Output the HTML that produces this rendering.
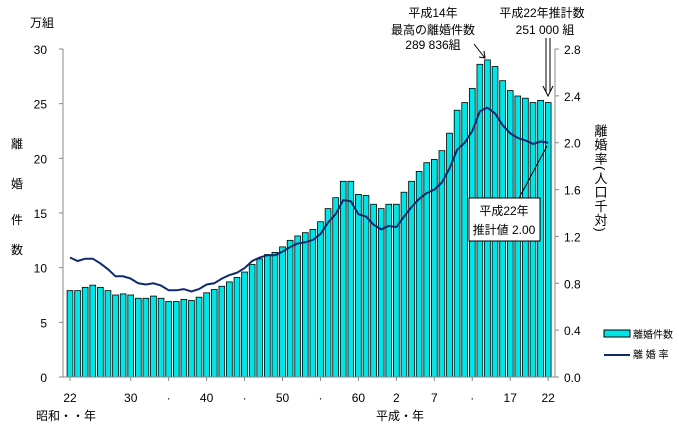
<!DOCTYPE html>
<html><head><meta charset="utf-8"><style>
body{margin:0;background:#fff;}
svg text{font-family:"Liberation Sans","Noto Sans CJK JP",sans-serif;font-size:12px;fill:#000;}
</style></head><body>
<svg width="679" height="432" id="c">
<g id="bars"></g>
<path id="rate" fill="none" stroke="#0f2a6e" stroke-width="2"/>
<line x1="63" y1="49" x2="63" y2="377" stroke="#888"/>
<line x1="555" y1="49" x2="555" y2="377" stroke="#888"/>
<line x1="63" y1="377" x2="555" y2="377" stroke="#888"/>
<g id="ticks"></g>
<text x="30" y="27">万組</text>
<g font-size="13">
<text x="11" y="148">離</text><text x="11" y="188">婚</text><text x="11" y="224">件</text><text x="11" y="254">数</text></g>
<text x="600" y="124" style="writing-mode:vertical-rl;font-size:13px;letter-spacing:1px">離婚率(人口千対)</text>
<text x="36" y="420">昭和・・年</text>
<text x="376" y="420">平成・年</text>
<g text-anchor="middle">
<text x="433" y="17">平成14年</text><text x="433" y="34">最高の離婚件数</text><text x="433" y="49">289 836組</text></g>
<path d="M474 44 L485 58 M479 57 L485 58 L484 51" stroke="#000" fill="none"/>
<g text-anchor="middle">
<text x="542" y="17">平成22年推計数</text><text x="545" y="34">251 000 組</text></g>
<path d="M546 38 L546 92 M550 38 L550 92 M543 86 L548 96 L553 86" stroke="#000" fill="none"/>
<line x1="518" y1="200" x2="547" y2="146" stroke="#000"/>
<rect x="469" y="198" width="71" height="43" fill="#fff" stroke="#000"/>
<text x="504" y="215" text-anchor="middle">平成22年</text>
<text x="504" y="234" text-anchor="middle">推計値 2.00</text>
<rect x="604" y="330" width="26" height="7" fill="#00e5e5" stroke="#000"/>
<text x="633" y="338" font-size="10" style="font-size:10px">離婚件数</text>
<line x1="604" y1="355" x2="630" y2="355" stroke="#0f2a6e" stroke-width="2"/>
<text x="633" y="358" style="font-size:10px">離 婚 率</text>
</svg>
<script>
const years=[22,23,24,25,26,27,28,29,30,31,32,33,34,35,36,37,38,39,40,41,42,43,44,45,46,47,48,49,50,51,52,53,54,55,56,57,58,59,60,61,62,63,64,2,3,4,5,6,7,8,9,10,11,12,13,14,15,16,17,18,19,20,21,22];
const divorces=[7.9,7.9,8.2,8.4,8.2,7.9,7.5,7.6,7.5,7.2,7.2,7.4,7.2,6.9,6.9,7.1,7.0,7.3,7.7,8.0,8.3,8.7,9.1,9.6,10.3,10.8,11.2,11.4,11.9,12.5,12.9,13.2,13.5,14.2,15.4,16.4,17.9,17.9,16.7,16.6,15.8,15.4,15.8,15.8,16.9,17.9,18.8,19.6,19.9,20.7,22.3,24.4,25.1,26.4,28.6,29.0,28.4,27.1,26.2,25.7,25.5,25.1,25.3,25.1];
const rates=[1.02,0.99,1.01,1.01,0.97,0.92,0.86,0.86,0.84,0.80,0.79,0.80,0.78,0.74,0.74,0.75,0.73,0.75,0.79,0.80,0.84,0.87,0.89,0.93,0.99,1.02,1.04,1.04,1.07,1.11,1.14,1.15,1.17,1.22,1.32,1.39,1.51,1.50,1.39,1.37,1.30,1.26,1.29,1.28,1.37,1.45,1.52,1.57,1.60,1.66,1.78,1.94,2.00,2.10,2.27,2.30,2.25,2.15,2.08,2.04,2.02,1.99,2.01,2.00];
const leftTicks=[0,5,10,15,20,25,30];
const rightTicks=[0.0,0.4,0.8,1.2,1.6,2.0,2.4,2.8];
const xLabels=["22","30","·","40","·","50","·","60","2","7","·","17","22"];
const xLabelIdx=[0,8,13,18,23,28,33,38,43,48,53,58,63];
const NS="http://www.w3.org/2000/svg";
const y0=377,y1=49,x0=66.2,slot=7.59;
const yL=v=>y0-(v/30)*(y0-y1);
const yR=v=>y0-(v/2.8)*(y0-y1);
const xc=i=>x0+slot*(i+0.5);
function mk(t,a,p){const e=document.createElementNS(NS,t);for(const k in a)e.setAttribute(k,a[k]);p.appendChild(e);return e;}
const bg=document.getElementById('bars');
divorces.forEach((v,i)=>{const r=mk('rect',{x:xc(i)-2.9,y:yL(v),width:5.8,height:y0-yL(v),fill:'#00e5e5',stroke:'#000','stroke-width':0.8},bg);

});
document.getElementById('rate').setAttribute('d',rates.map((v,i)=>(i?'L':'M')+xc(i).toFixed(1)+' '+yR(v).toFixed(1)).join(' '));
const tg=document.getElementById('ticks');
leftTicks.forEach(v=>{mk('line',{x1:59,x2:63,y1:yL(v),y2:yL(v),stroke:'#888'},tg);
const t=mk('text',{x:47,y:yL(v)+5,'text-anchor':'end'},tg);t.textContent=v;

});
rightTicks.forEach(v=>{mk('line',{x1:555,x2:559,y1:yR(v),y2:yR(v),stroke:'#888'},tg);
const t=mk('text',{x:564,y:yR(v)+5},tg);t.textContent=v.toFixed(1);

});
xLabelIdx.forEach((idx,k)=>{mk('line',{x1:xc(idx),x2:xc(idx),y1:377,y2:381,stroke:'#888'},tg);
const t=mk('text',{x:xc(idx),y:402,'text-anchor':'middle'},tg);t.textContent=xLabels[k];

});
</script>
</body></html>
